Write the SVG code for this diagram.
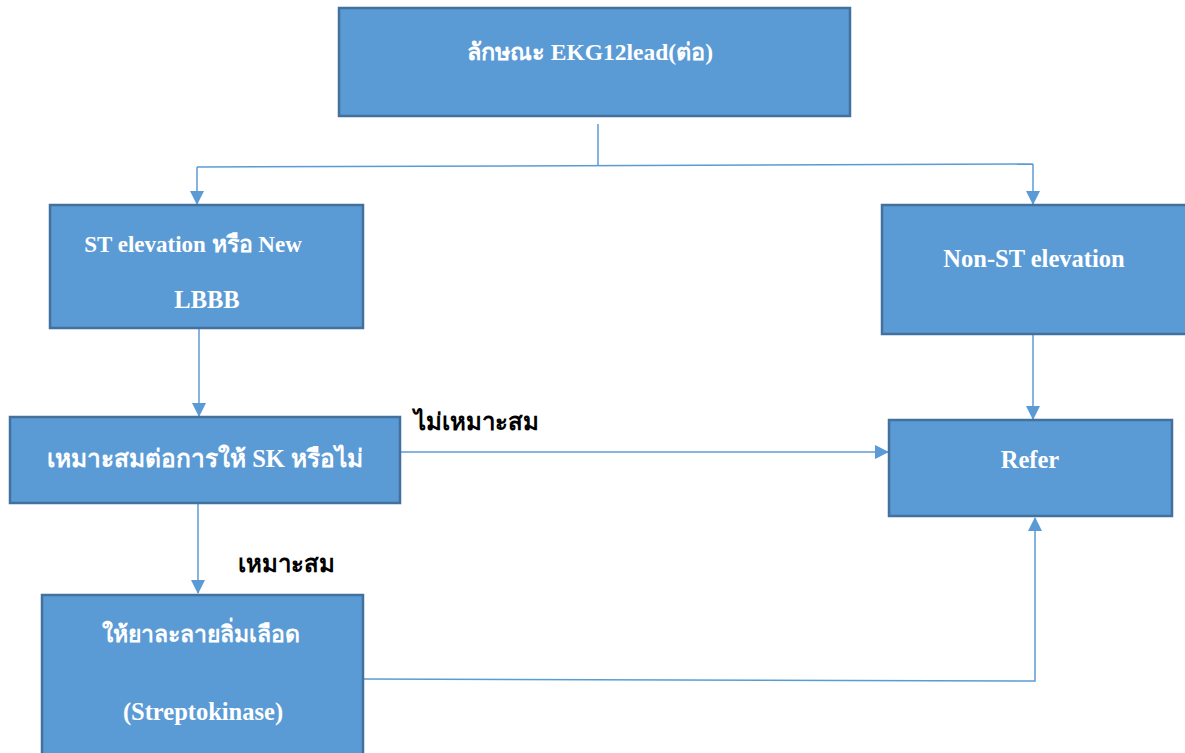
<svg xmlns="http://www.w3.org/2000/svg" width="1185" height="753" viewBox="0 0 1185 753">
<style>
.box{fill:#5B9BD5;stroke:#41719C;stroke-width:2.5}
.t{font-family:'Liberation Serif','Times New Roman','DejaVu Serif',serif;font-weight:bold;font-size:23px;fill:#fff;text-anchor:middle}
.big{font-size:24.5px}
.lbl{font-family:'Liberation Serif','Times New Roman','DejaVu Serif',serif;font-weight:bold;font-size:24px;fill:#000}
.c{fill:none;stroke:#5B9BD5;stroke-width:1.5}
</style>
<defs>
<marker id="ah" markerWidth="14" markerHeight="14" refX="13" refY="7" orient="auto" markerUnits="userSpaceOnUse" viewBox="0 0 14 14">
<path d="M0,0 L14,7 L0,14 Z" fill="#5B9BD5"/>
</marker>
</defs>
<rect width="1185" height="753" fill="#fff"/>
<g id="connectors">
<path class="c" d="M598,124 V166"/>
<path class="c" d="M197,167 L1033,164"/>
<path class="c" d="M197,167 V204" marker-end="url(#ah)"/>
<path class="c" d="M1033,164 V204" marker-end="url(#ah)"/>
<path class="c" d="M199,328 V416" marker-end="url(#ah)"/>
<path class="c" d="M1033,334 V419" marker-end="url(#ah)"/>
<path class="c" d="M400,452 H888" marker-end="url(#ah)"/>
<path class="c" d="M198,503 V593" marker-end="url(#ah)"/>
<path class="c" d="M363,679 L1035,681 V518" marker-end="url(#ah)"/>
</g>
<g id="n1"><rect class="box" x="339" y="8" width="511" height="108"/><text class="t" x="590" y="60" style="font-size:23.5px">ลักษณะ EKG12lead(ต่อ)</text></g>
<g id="n2"><rect class="box" x="50" y="205" width="313" height="123"/><text class="t" x="193" y="252">ST elevation หรือ New</text><text class="t big" x="207" y="308">LBBB</text></g>
<g id="n3"><rect class="box" x="882" y="205" width="306" height="129"/><text class="t big" x="1034" y="267">Non-ST elevation</text></g>
<g id="n4"><rect class="box" x="10" y="417" width="390" height="86"/><text class="t big" x="205" y="467">เหมาะสมต่อการให้ SK หรือไม่</text></g>
<g id="n5"><rect class="box" x="889" y="420" width="283" height="96"/><text class="t big" x="1030" y="468">Refer</text></g>
<g id="n6"><rect class="box" x="42" y="595" width="321" height="165"/><text class="t" x="201" y="642">ให้ยาละลายลิ่มเลือด</text><text class="t big" x="203" y="720">(Streptokinase)</text></g>
<g id="labels">
<text class="lbl" x="414" y="430">ไม่เหมาะสม</text>
<text class="lbl" x="238" y="572">เหมาะสม</text>
</g>
</svg>
